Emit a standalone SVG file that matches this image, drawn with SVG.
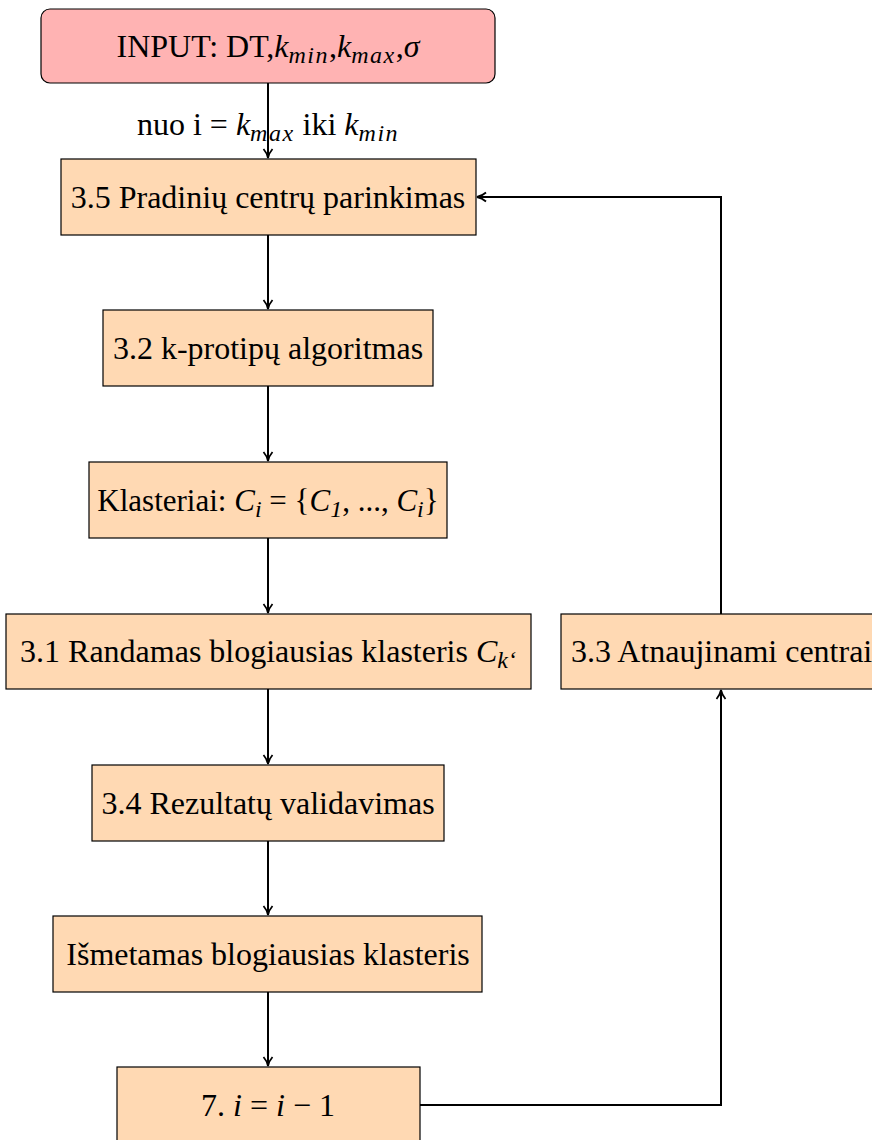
<svg xmlns="http://www.w3.org/2000/svg" width="872" height="1140" viewBox="0 0 872 1140">
<style>
text{font-family:"Liberation Serif","Times New Roman",serif;font-size:32px;fill:#000;text-anchor:middle}
.box{fill:#ffd9b3;stroke:#000;stroke-width:1.2}
.inp{fill:#ffb3b3;stroke:#000;stroke-width:1.2}
.m{font-style:italic}
.s{font-size:24px;font-style:italic;letter-spacing:1.5px}
.c{fill:none;stroke:#000;stroke-width:2}
</style>
<defs>
<marker id="a" viewBox="0 0 12 12" refX="11" refY="6" markerWidth="12" markerHeight="12" orient="auto" markerUnits="userSpaceOnUse">
<path d="M2,1.5 Q6,5 11,6 Q6,7 2,10.5" fill="none" stroke="#000" stroke-width="1.8"/>
</marker>
</defs>
<g id="connectors">
<line class="c" x1="268" y1="83" x2="268" y2="158" marker-end="url(#a)"/>
<line class="c" x1="268" y1="235" x2="268" y2="309" marker-end="url(#a)"/>
<line class="c" x1="268" y1="386" x2="268" y2="461" marker-end="url(#a)"/>
<line class="c" x1="268" y1="538" x2="268" y2="613" marker-end="url(#a)"/>
<line class="c" x1="268" y1="689" x2="268" y2="764" marker-end="url(#a)"/>
<line class="c" x1="268" y1="841" x2="268" y2="915" marker-end="url(#a)"/>
<line class="c" x1="268" y1="992" x2="268" y2="1066" marker-end="url(#a)"/>
<polyline class="c" points="420,1105 721,1105 721,690" marker-end="url(#a)"/>
<polyline class="c" points="721,614 721,197 477,197" marker-end="url(#a)"/>
<text x="268" y="135">nuo i = <tspan class="m">k</tspan><tspan class="s" dy="6">max</tspan><tspan dy="-6"> iki </tspan><tspan class="m">k</tspan><tspan class="s" dy="6">min</tspan></text>
</g>
<g id="input">
<rect class="inp" x="41" y="9" width="454" height="74" rx="9"/>
<text x="268" y="57">INPUT: DT,<tspan class="m">k</tspan><tspan class="s" dy="6">min</tspan><tspan dy="-6">,</tspan><tspan class="m">k</tspan><tspan class="s" dy="6">max</tspan><tspan dy="-6">,</tspan><tspan class="m">σ</tspan></text>
</g>
<g id="n35">
<rect class="box" x="61" y="159" width="415" height="76"/>
<text x="268" y="208">3.5 Pradinių centrų parinkimas</text>
</g>
<g id="n32">
<rect class="box" x="103" y="310" width="330" height="76"/>
<text x="268" y="359">3.2 k-protipų algoritmas</text>
</g>
<g id="nkl">
<rect class="box" x="89" y="462" width="358" height="76"/>
<text x="268" y="511" style="font-size:31px">Klasteriai: <tspan class="m">C</tspan><tspan class="s" dy="6" style="letter-spacing:0">i</tspan><tspan dy="-6"> = {</tspan><tspan class="m">C</tspan><tspan class="s" dy="6" font-style="normal" style="letter-spacing:0">1</tspan><tspan dy="-6">, ..., </tspan><tspan class="m">C</tspan><tspan class="s" dy="6" style="letter-spacing:0">i</tspan><tspan dy="-6">}</tspan></text>
</g>
<g id="n31">
<rect class="box" x="6" y="614" width="525" height="75"/>
<text x="268" y="662">3.1 Randamas blogiausias klasteris <tspan class="m">C</tspan><tspan class="s" dy="6" style="letter-spacing:0">k‘</tspan></text>
</g>
<g id="n33">
<rect class="box" x="561" y="614" width="330" height="75"/>
<text x="571" y="662" style="text-anchor:start">3.3 Atnaujinami centrai</text>
</g>
<g id="n34">
<rect class="box" x="92" y="765" width="352" height="76"/>
<text x="268" y="814">3.4 Rezultatų validavimas</text>
</g>
<g id="nis">
<rect class="box" x="53" y="916" width="429" height="76"/>
<text x="268" y="965">Išmetamas blogiausias klasteris</text>
</g>
<g id="n7">
<rect class="box" x="117" y="1067" width="303" height="80"/>
<text x="268" y="1116">7. <tspan class="m">i</tspan> = <tspan class="m">i</tspan> − 1</text>
</g>
</svg>
